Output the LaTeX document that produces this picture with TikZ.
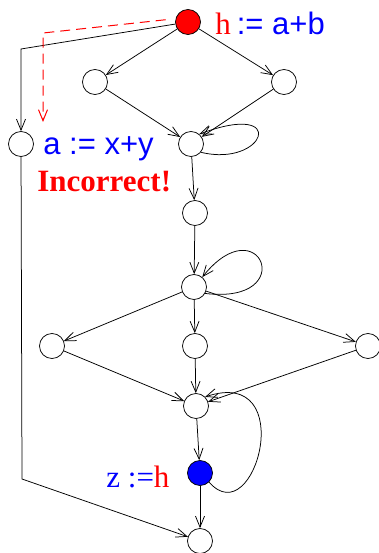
\documentclass[tikz,border=0pt]{standalone}
\usepackage{fontspec}
\setmainfont{Liberation Serif}
\setsansfont{Liberation Sans}
\usetikzlibrary{arrows.meta}
\begin{document}
\begin{tikzpicture}[x=1pt, y=-1pt, line width=0.75pt, >={Straight Barb[length=11pt,width=9pt]},
  v/.style={draw, circle, inner sep=0pt, minimum size=25pt},
  lbl/.style={font=\fontsize{31}{34}\selectfont, inner sep=0pt, anchor=base west}]
  \useasboundingbox (0,0) rectangle (379,553);
  \node[v, fill=red]  (h)   at (188,22)  {};
  \node[v]            (l1)  at (95,82)   {};
  \node[v]            (r1)  at (284,82)  {};
  \node[v]            (a)   at (21,144)  {};
  \node[v]            (m1)  at (191,144) {};
  \node[v]            (m2)  at (195,213) {};
  \node[v]            (m3)  at (194,287) {};
  \node[v]            (l2)  at (52,346)  {};
  \node[v]            (c2)  at (195,346) {};
  \node[v]            (r2)  at (368,346) {};
  \node[v]            (m4)  at (196,406) {};
  \node[v, fill=blue] (z)   at (200,473) {};
  \node[v]            (end) at (200,541) {};
  \coordinate (ha) at (21,49);
  \coordinate (dk) at (43,33);
  \coordinate (dd) at (43,122);
  \coordinate (ae) at (22,479);
  \node[lbl] (hl)  at (215,35)  {\textcolor{red}{h}\hspace{6pt}\textcolor{blue}{\sffamily := a+b}};
  \node[lbl, text=blue] (al) at (43,155) {\sffamily a := x+y};
  \node[lbl, text=red]  (inc) at (37,192) {\bfseries Incorrect!};
  \node[lbl] (zl)  at (106,487) {\textcolor{blue}{z :=}\textcolor{red}{h}};
  \draw[->] (h) -- (l1);
  \draw[->] (h) -- (r1);
  \draw[->] (h) -- (ha) -- (a);
  \draw[->, red, line width=1pt, dash pattern=on 10pt off 6pt, shorten <=10pt] (h.165) -- (dk) -- (dd);
  \draw[->] (l1) -- (m1);
  \draw[->] (r1) -- (m1);
  \draw[->] (m1.-40) .. controls (265,168) and (290,100) .. (m1.50);
  \draw[->] (m1) -- (m2);
  \draw[->] (m2) -- (m3);
  \draw[->] (m3.-30) .. controls (300,305) and (260,205) .. (m3.50);
  \draw[->] (m3) -- (l2);
  \draw[->] (m3) -- (c2);
  \draw[->] (m3) -- (r2);
  \draw[->] (l2) -- (m4);
  \draw[->] (c2) -- (m4);
  \draw[->] (r2) -- (m4);
  \draw[->] (m4) -- (z);
  \draw[->] (z.-45) .. controls (255,535) and (300,365) .. (m4.45);
  \draw[->] (z) -- (end);
  \draw[->] (a) -- (ae) -- (end);
\end{tikzpicture}
\end{document}
